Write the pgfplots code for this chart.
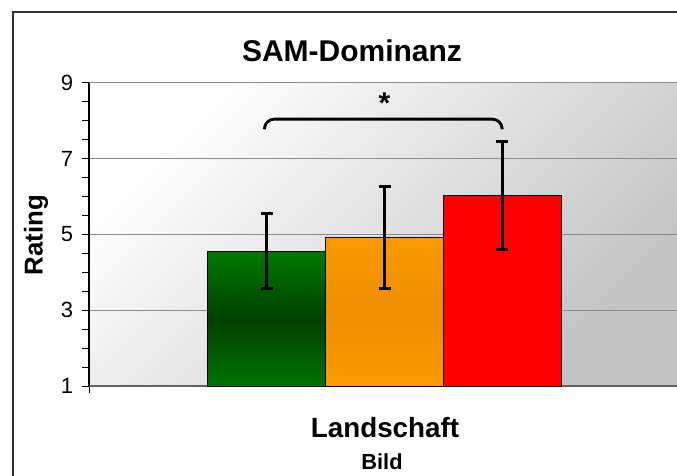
\documentclass[border=0pt]{standalone}
\usepackage{pgfplots}
\pgfplotsset{compat=1.18}
\usepackage{fontspec}
\setmainfont{Liberation Sans}

\definecolor{grnA}{HTML}{007A00}
\definecolor{grnB}{HTML}{004000}
\definecolor{grnC}{HTML}{007300}
\definecolor{orA}{HTML}{FA9A00}
\definecolor{orB}{HTML}{EF8E00}
\definecolor{gridgray}{HTML}{8C8C8C}

\begin{document}
\begin{tikzpicture}
\path[use as bounding box] (0,0) rectangle (338.5pt,238pt);
\begin{axis}[
  at={(44.65pt,44.85pt)}, anchor=south west,
  scale only axis,
  width=293.85pt, height=151.8pt,
  xmin=-0.507, xmax=4.484,
  ymin=1, ymax=9,
  ytick={1,3,5,7,9},
  minor y tick num=3,
  xtick={-0.507}, xticklabels={},
  tick align=outside,
  major tick length=3.5pt, minor tick length=3.5pt,
  tick style={black, line width=0.6pt},
  axis x line*=bottom, axis y line*=left,
  x axis line style={-, gridgray!70!black, line width=0.8pt},
  y axis line style={-, black, line width=0.8pt},
  ymajorgrids,
  major grid style={gridgray, line width=0.5pt},
  /pgf/number format/assume math mode=true,
  yticklabel style={font=\fontsize{11}{12}\selectfont, xshift=-1pt},
  axis background/.style={shade, top color=white, bottom color=black!24, shading angle=45},
  clip=false,
]
\addplot[ybar, bar width=1, bar shift=0pt, draw=black, line width=0.6pt,
  top color=grnA, bottom color=grnC, middle color=grnB] coordinates {(1,4.56)};
\addplot[ybar, bar width=1, bar shift=0pt, draw=black, line width=0.6pt,
  top color=orA, bottom color=orA, middle color=orB] coordinates {(2,4.92)};
\addplot[ybar, bar width=1, bar shift=0pt, draw=black, line width=0.6pt,
  fill=red] coordinates {(3,6.03)};
\addplot[draw=none, mark=none, forget plot,
  error bars/.cd, y dir=both, y explicit,
  error bar style={line width=1.5pt, draw=black},
  error mark options={rotate=90, line width=1.5pt, mark size=3pt, draw=black}]
  coordinates {(1,4.56) +- (0,0.99) (2,4.92) +- (0,1.35) (3,6.03) +- (0,1.43)};
\draw[line width=1.4pt, rounded corners=5pt]
  (axis cs:0.98,7.8) -- (axis cs:0.98,8.04) -- (axis cs:3.0,8.04) -- (axis cs:3.0,7.8);
\node[font=\bfseries\fontsize{15}{16}\selectfont] at (axis cs:2.0,8.45) {*};
\end{axis}
\draw[line width=0.9pt, black!80] (6.5pt,0) -- (6.5pt,232pt) -- (338.5pt,232pt);
\node[font=\bfseries\fontsize{15}{18}\selectfont] at (176pt,212.5pt) {SAM-Dominanz};
\node[font=\bfseries\fontsize{12.9}{15}\selectfont, rotate=90] at (18pt,120.5pt) {Rating};
\node[font=\bfseries\fontsize{13.9}{16}\selectfont] at (192.5pt,24pt) {Landschaft};
\node[font=\bfseries\fontsize{10.9}{13}\selectfont] at (191pt,7pt) {Bild};
\end{tikzpicture}
\end{document}
